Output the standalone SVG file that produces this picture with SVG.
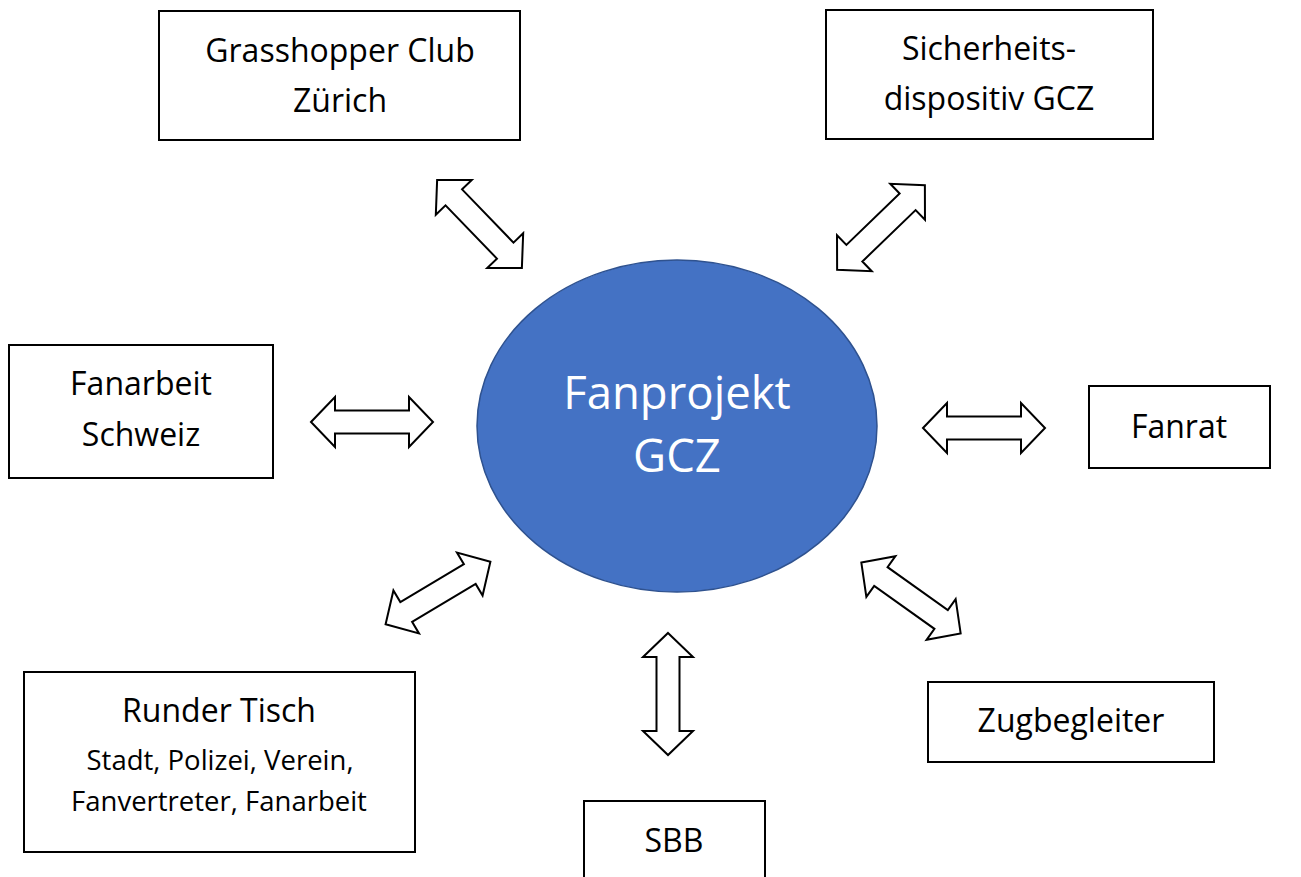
<svg xmlns="http://www.w3.org/2000/svg" xmlns:xlink="http://www.w3.org/1999/xlink" width="1301" height="877" viewBox="0 0 1301 877">
<style>
.box{fill:#fff;stroke:#000;stroke-width:2}
.t{font-family:"Open Sans","Noto Sans",sans-serif;font-size:32px;fill:#000;text-anchor:middle}
.s{font-size:27.5px}
.w{fill:#fff;font-size:45.5px}
.arr{fill:#fff;stroke:#000;stroke-width:2;stroke-linejoin:miter}
</style>
<defs>
<path id="arr" d="M -61 0 L -37 -25 L -37 -11.5 L 37 -11.5 L 37 -25 L 61 0 L 37 25 L 37 11.5 L -37 11.5 L -37 25 Z"/>
</defs>
<rect width="1301" height="877" fill="#fff"/>
<g id="connectors" class="arr">
<use xlink:href="#arr" href="#arr" transform="translate(479.5,224) rotate(46)"/>
<use xlink:href="#arr" href="#arr" transform="translate(881,227.5) rotate(-44)"/>
<use xlink:href="#arr" href="#arr" transform="translate(372,422)"/>
<use xlink:href="#arr" href="#arr" transform="translate(984,428)"/>
<use xlink:href="#arr" href="#arr" transform="translate(438,593) rotate(-30.8)"/>
<use xlink:href="#arr" href="#arr" transform="translate(911,598) rotate(35.5)"/>
<use xlink:href="#arr" href="#arr" transform="translate(668,694) rotate(90)"/>
</g>
<g id="center">
<ellipse cx="677" cy="426" rx="200" ry="166" fill="#4472C4" stroke="#2F528F" stroke-width="1.5"/>
<text class="t w" x="677" y="409">Fanprojekt</text>
<text class="t w" x="677" y="472">GCZ</text>
</g>
<g id="gcz">
<rect class="box" x="159" y="11" width="361" height="129"/>
<text class="t" x="340" y="62">Grasshopper Club</text>
<text class="t" x="340" y="112">Zürich</text>
</g>
<g id="sicherheit">
<rect class="box" x="826" y="10" width="327" height="129"/>
<text class="t" x="989" y="60">Sicherheits-</text>
<text class="t" x="989" y="110">dispositiv GCZ</text>
</g>
<g id="fanarbeit">
<rect class="box" x="9" y="345" width="264" height="133"/>
<text class="t" x="141" y="395">Fanarbeit</text>
<text class="t" x="141" y="446">Schweiz</text>
</g>
<g id="fanrat">
<rect class="box" x="1089" y="386" width="181" height="82"/>
<text class="t" x="1179" y="438">Fanrat</text>
</g>
<g id="rundertisch">
<rect class="box" x="24" y="672" width="391" height="180"/>
<text class="t" x="219" y="722">Runder Tisch</text>
<text class="t s" x="220" y="770">Stadt, Polizei, Verein,</text>
<text class="t s" x="219" y="811">Fanvertreter, Fanarbeit</text>
</g>
<g id="zugbegleiter">
<rect class="box" x="928" y="682" width="286" height="80"/>
<text class="t" x="1071" y="732">Zugbegleiter</text>
</g>
<g id="sbb">
<rect class="box" x="584" y="801" width="181" height="80"/>
<text class="t" x="674" y="852">SBB</text>
</g>
</svg>
